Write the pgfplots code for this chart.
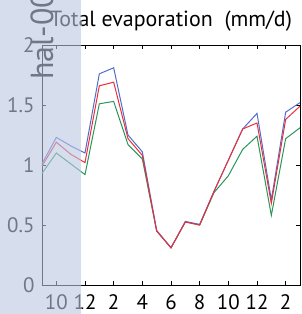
\documentclass[border=0pt]{standalone}
\usepackage{fontspec}
\setmainfont{PT Sans}
\usepackage{pgfplots}
\usepackage{pgfplotstable}
\pgfplotsset{compat=1.18}
\definecolor{shadebg}{RGB}{214,222,238}
\pgfplotstableread{
m blue red green
9 1.01 0.99 0.93
10 1.23 1.19 1.10
11 1.16 1.09 1.01
12 1.10 1.02 0.92
13 1.76 1.66 1.51
14 1.81 1.69 1.53
15 1.25 1.22 1.17
16 1.11 1.08 1.05
17 0.455 0.45 0.45
18 0.31 0.31 0.31
19 0.53 0.525 0.525
20 0.505 0.50 0.50
21 0.78 0.78 0.77
22 1.04 1.04 0.91
23 1.30 1.30 1.13
24 1.43 1.35 1.24
25 0.71 0.68 0.58
26 1.44 1.38 1.22
27 1.52 1.49 1.31
}\evap
\newcommand{\chart}{%
\begin{axis}[
  at={(0,0)}, anchor=south west,
  scale only axis, width=258bp, height=240bp,
  xmin=9, xmax=27, ymin=0, ymax=2,
  xtick={10,12,...,26}, xticklabels={10,12,2,4,6,8,10,12,2},
  ytick={0,0.5,1,1.5,2}, yticklabels={0,0.5,1,1.5,2},
  tick align=inside, major tick length=4bp,
  tick style={axc, line width=0.6bp},
  axis line style={axc, line width=0.8bp},
  ticklabel style={font=\fontsize{21}{21}\selectfont, text=axc},
  yticklabel style={xshift=-4bp},
  xticklabel style={yshift=-6bp},
  /pgf/number format/assume math mode=true,
  clip=false,
  title={Total evaporation\ \ (mm/d)},
  title style={font=\fontsize{22}{22}\selectfont, text=axc, at={(0.5,1)}, anchor=center, yshift=18bp},
]
\addplot[cg, line width=1bp] table[x=m, y=green] {\evap};
\addplot[cb, line width=1bp] table[x=m, y=blue] {\evap};
\addplot[cr, line width=1bp] table[x=m, y=red] {\evap};
\end{axis}}
\begin{document}
\begin{tikzpicture}[x=1bp,y=1bp]
\useasboundingbox (-42bp,-29bp) rectangle (260bp,285bp);
\definecolor{axc}{RGB}{0,0,0}
\definecolor{cb}{RGB}{80,110,200}
\definecolor{cr}{RGB}{238,45,60}
\definecolor{cg}{RGB}{40,150,90}
\chart
\fill[shadebg] (-42bp,-29bp) rectangle (39bp,285bp);
\begin{scope}
\clip (-42bp,-29bp) rectangle (39bp,285bp);
\definecolor{axc}{RGB}{112,120,136}
\definecolor{cb}{RGB}{144,164,216}
\definecolor{cr}{RGB}{207,138,160}
\definecolor{cg}{RGB}{128,180,172}
\chart
\node[rotate=90, anchor=base west, inner sep=0pt, font=\fontsize{32}{32}\selectfont, text=axc] at (11bp,205bp) {hal-00};
\end{scope}
\end{tikzpicture}
\end{document}
